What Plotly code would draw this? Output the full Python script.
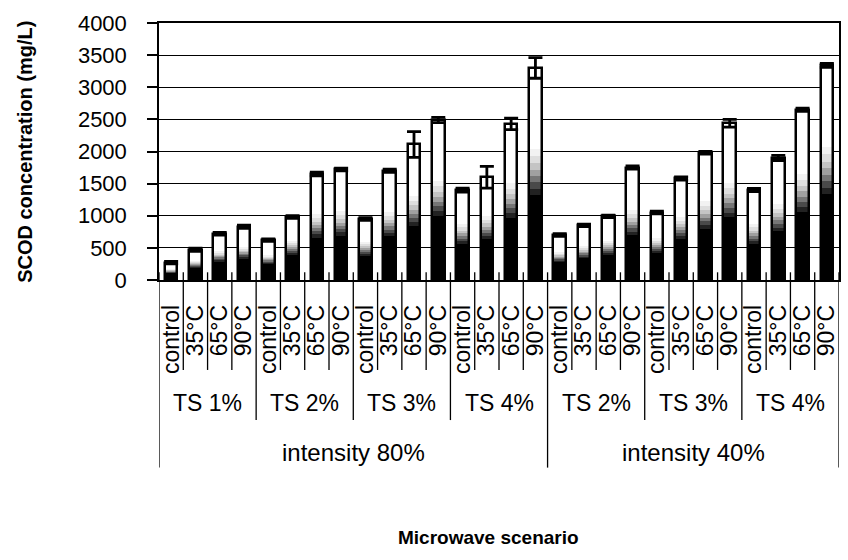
import plotly.graph_objects as go

temps = ["control", "35°C", "65°C", "90°C"]
ts_groups = ["TS 1%", "TS 2%", "TS 3%", "TS 4%", "TS 2%", "TS 3%", "TS 4%"]
intensity_groups = ["intensity 80%", "intensity 40%"]
groups_per_intensity = [4, 3]

scod = [270, 470, 720, 830,
        620, 980, 1650, 1720,
        950, 1700, 2110, 2490,
        1400, 1600, 2430, 3300,
        700, 850, 990, 1750,
        1050, 1580, 1980, 2440,
        1400, 1900, 2650, 3340]
err = [20, 25, 20, 25,
       20, 20, 30, 20,
       20, 25, 200, 40,
       30, 170, 90, 160,
       20, 20, 20, 25,
       20, 25, 20, 60,
       25, 40, 25, 30]

labels = temps * len(ts_groups)
x = list(range(len(scod)))

FONT = "Liberation Sans, Arial, sans-serif"
BW = 0.52

fig = go.Figure()
# white base of each bar
fig.add_trace(go.Bar(x=x, y=scod, width=BW, marker=dict(color="white", line=dict(width=0)),
                     showlegend=False, hoverinfo="skip"))
# shading from white (top) to black (bottom)
shade_steps = [(0.62, "#f2f2f2"), (0.585, "#dedede"), (0.55, "#c4c4c4"), (0.52, "#a0a0a0"),
               (0.49, "#767676"), (0.46, "#4a4a4a"), (0.43, "#222222"), (0.40, "#000000")]
for frac, col in shade_steps:
    fig.add_trace(go.Bar(x=x, y=[v * frac for v in scod], width=BW,
                         marker=dict(color=col, line=dict(width=0)),
                         showlegend=False, hoverinfo="skip"))
# outline + error bars
fig.add_trace(go.Bar(x=x, y=scod, width=BW,
                     marker=dict(color="rgba(0,0,0,0)", line=dict(color="black", width=2.5)),
                     error_y=dict(type="data", array=err, visible=True, color="black",
                                  thickness=2.8, width=7),
                     showlegend=False))

shapes = []
n = len(scod)
bounds = [0, groups_per_intensity[0] * 4, n]
for i in range(n + 1):
    x0 = i - 0.5
    depth = -0.35
    if i % 4 == 0:
        depth = -0.545
    if i in bounds:
        depth = -0.73
    shapes.append(dict(type="line", xref="x", yref="paper", x0=x0, x1=x0, y0=0.03, y1=depth,
                       line=dict(color="black", width=1.3)))

annotations = []
for g, name in enumerate(ts_groups):
    annotations.append(dict(x=g * 4 + 1.5, y=-0.478, xref="x", yref="paper", text=name,
                            showarrow=False, font=dict(family=FONT, size=23, color="black"),
                            yanchor="middle", xanchor="center"))
start = 0
for cnt, name in zip(groups_per_intensity, intensity_groups):
    center = start * 4 + cnt * 4 / 2 - 0.5
    annotations.append(dict(x=center, y=-0.67, xref="x", yref="paper", text=name,
                            showarrow=False, font=dict(family=FONT, size=24, color="black"),
                            yanchor="middle", xanchor="center"))
    start += cnt
annotations.append(dict(x=0.485, y=-1.0, xref="paper", yref="paper", text="<b>Microwave scenario</b>",
                        showarrow=False, font=dict(family=FONT, size=19, color="black"),
                        yanchor="middle", xanchor="center"))
annotations.append(dict(x=-0.198, y=0.5, xref="paper", yref="paper",
                        text="<b>SCOD concentration (mg/L)</b>", textangle=-90,
                        showarrow=False, font=dict(family=FONT, size=20, color="black"),
                        yanchor="middle", xanchor="center"))

fig.update_layout(
    width=848, height=560,
    margin=dict(l=159, r=7, t=23, b=280),
    barmode="overlay",
    bargap=0,
    plot_bgcolor="white", paper_bgcolor="white",
    font=dict(family=FONT, color="black"),
    shapes=shapes, annotations=annotations,
    showlegend=False,
)
fig.update_xaxes(
    range=[-0.5, n - 0.5], tickmode="array", tickvals=x, ticktext=labels,
    tickangle=-90, tickfont=dict(family=FONT, size=23, color="black"),
    ticks="", ticklabelstandoff=14,
    showline=True, linecolor="black", linewidth=1.5, mirror=True,
    showgrid=False, zeroline=False,
)
fig.update_yaxes(
    range=[0, 4000], tickvals=list(range(0, 4001, 500)),
    tickfont=dict(family=FONT, size=22, color="black"),
    ticks="outside", ticklen=10, tickcolor="black", tickwidth=1.5,
    ticklabelstandoff=16,
    showline=True, linecolor="black", linewidth=1.5, mirror=True,
    showgrid=True, gridcolor="black", gridwidth=1.2, zeroline=False,
)

fig.write_html("out.html")
